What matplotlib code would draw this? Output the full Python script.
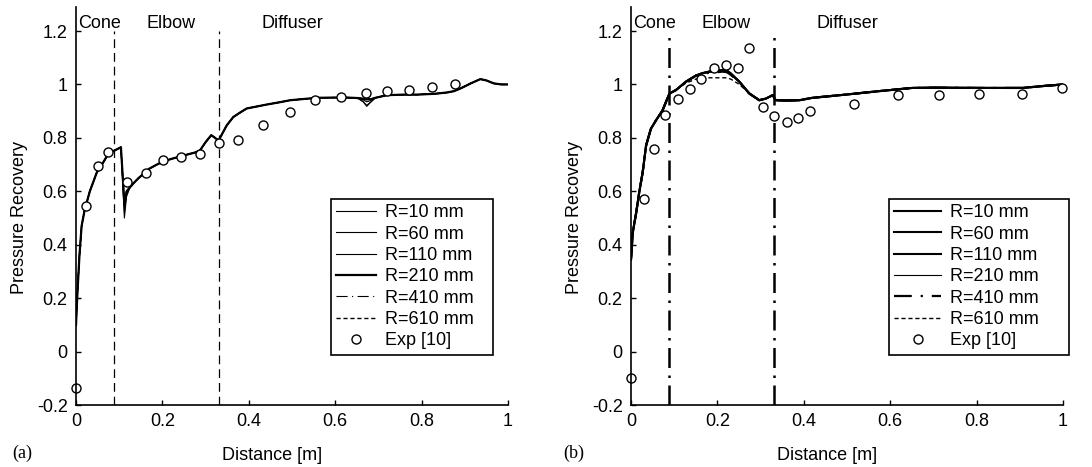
import matplotlib
matplotlib.use("Agg")
import matplotlib.pyplot as plt

plt.rcParams['font.family'] = ['Liberation Sans', 'DejaVu Sans']

# ---------------- Data: panel (a) ----------------
xa = [0, 0.003, 0.008, 0.013, 0.02, 0.032, 0.048, 0.06, 0.071, 0.086,
      0.098, 0.104, 0.108, 0.112, 0.117, 0.125, 0.133, 0.145, 0.156, 0.17,
      0.187, 0.2, 0.218, 0.24, 0.256, 0.275, 0.287, 0.3, 0.313, 0.322,
      0.33, 0.34, 0.349, 0.364, 0.38, 0.395, 0.42, 0.442, 0.47, 0.496,
      0.53, 0.558, 0.6, 0.627, 0.654, 0.665, 0.673, 0.683, 0.693, 0.72,
      0.76, 0.79, 0.83, 0.859, 0.875, 0.89, 0.915, 0.936, 0.95, 0.967,
      0.985, 1.0]
ya_r10 = [0.10, 0.21, 0.36, 0.47, 0.53, 0.60, 0.67, 0.70, 0.73, 0.75,
          0.76, 0.765, 0.64, 0.50, 0.58, 0.615, 0.63, 0.65, 0.665, 0.685,
          0.70, 0.71, 0.72, 0.73, 0.737, 0.745, 0.753, 0.784, 0.81, 0.80,
          0.79, 0.82, 0.847, 0.878, 0.895, 0.91, 0.918, 0.925, 0.933, 0.941,
          0.946, 0.95, 0.951, 0.951, 0.947, 0.935, 0.918, 0.935, 0.95, 0.96,
          0.962, 0.962, 0.965, 0.97, 0.975, 0.985, 1.005, 1.02, 1.015, 1.004,
          1.0, 1.0]
ya_r60 = [0.10, 0.21, 0.36, 0.47, 0.53, 0.60, 0.67, 0.70, 0.73, 0.75,
          0.76, 0.765, 0.64, 0.52, 0.59, 0.615, 0.63, 0.65, 0.665, 0.685,
          0.70, 0.71, 0.72, 0.73, 0.737, 0.745, 0.753, 0.784, 0.81, 0.80,
          0.79, 0.82, 0.847, 0.878, 0.895, 0.91, 0.918, 0.925, 0.933, 0.941,
          0.946, 0.95, 0.951, 0.951, 0.947, 0.935, 0.922, 0.935, 0.95, 0.96,
          0.962, 0.962, 0.965, 0.97, 0.975, 0.985, 1.005, 1.02, 1.015, 1.004,
          1.0, 1.0]
ya_r110 = [0.10, 0.21, 0.36, 0.47, 0.53, 0.60, 0.67, 0.70, 0.73, 0.75,
           0.76, 0.765, 0.65, 0.54, 0.59, 0.615, 0.63, 0.65, 0.665, 0.685,
           0.70, 0.71, 0.72, 0.73, 0.737, 0.745, 0.753, 0.784, 0.81, 0.80,
           0.79, 0.82, 0.847, 0.878, 0.895, 0.91, 0.918, 0.925, 0.933, 0.941,
           0.946, 0.95, 0.951, 0.951, 0.948, 0.942, 0.935, 0.94, 0.95, 0.96,
           0.962, 0.962, 0.965, 0.97, 0.975, 0.985, 1.005, 1.02, 1.015, 1.004,
           1.0, 1.0]
ya_r210 = [0.10, 0.21, 0.36, 0.47, 0.53, 0.60, 0.67, 0.70, 0.73, 0.75,
           0.76, 0.765, 0.66, 0.55, 0.60, 0.615, 0.63, 0.65, 0.665, 0.685,
           0.70, 0.71, 0.72, 0.73, 0.737, 0.745, 0.753, 0.784, 0.81, 0.80,
           0.79, 0.82, 0.847, 0.878, 0.895, 0.91, 0.918, 0.925, 0.933, 0.941,
           0.946, 0.95, 0.951, 0.951, 0.949, 0.946, 0.944, 0.945, 0.95, 0.96,
           0.962, 0.962, 0.965, 0.97, 0.975, 0.985, 1.005, 1.02, 1.015, 1.004,
           1.0, 1.0]
ya_r410 = [0.10, 0.21, 0.36, 0.47, 0.53, 0.60, 0.67, 0.70, 0.73, 0.75,
           0.76, 0.765, 0.66, 0.56, 0.60, 0.615, 0.63, 0.65, 0.665, 0.685,
           0.70, 0.71, 0.72, 0.73, 0.737, 0.745, 0.753, 0.784, 0.81, 0.80,
           0.79, 0.82, 0.847, 0.878, 0.895, 0.91, 0.918, 0.925, 0.933, 0.941,
           0.946, 0.95, 0.951, 0.951, 0.949, 0.947, 0.946, 0.947, 0.95, 0.96,
           0.962, 0.962, 0.965, 0.97, 0.975, 0.985, 1.005, 1.02, 1.015, 1.004,
           1.0, 1.0]
ya_r610 = [0.10, 0.21, 0.36, 0.47, 0.53, 0.60, 0.67, 0.70, 0.73, 0.75,
           0.76, 0.765, 0.66, 0.56, 0.60, 0.615, 0.63, 0.65, 0.665, 0.685,
           0.70, 0.71, 0.72, 0.73, 0.737, 0.745, 0.753, 0.784, 0.81, 0.80,
           0.79, 0.82, 0.847, 0.878, 0.895, 0.91, 0.918, 0.925, 0.933, 0.941,
           0.946, 0.95, 0.951, 0.951, 0.949, 0.947, 0.946, 0.947, 0.95, 0.96,
           0.962, 0.962, 0.965, 0.97, 0.975, 0.985, 1.005, 1.02, 1.015, 1.004,
           1.0, 1.0]
exp_xa = [0.0, 0.023, 0.052, 0.075, 0.117, 0.161, 0.202, 0.243, 0.287, 0.331,
          0.374, 0.434, 0.496, 0.554, 0.613, 0.671, 0.720, 0.770, 0.825, 0.878]
exp_ya = [-0.136, 0.546, 0.694, 0.747, 0.634, 0.669, 0.718, 0.728, 0.740, 0.780,
          0.793, 0.847, 0.897, 0.941, 0.954, 0.969, 0.975, 0.981, 0.989, 1.0]

# ---------------- Data: panel (b) ----------------
xb = [0, 0.004, 0.012, 0.019, 0.027, 0.035, 0.046, 0.058, 0.073, 0.089,
      0.104, 0.127, 0.15, 0.165, 0.181, 0.2, 0.212, 0.222, 0.231, 0.251,
      0.274, 0.297, 0.312, 0.322, 0.328, 0.335, 0.36, 0.39, 0.42, 0.497,
      0.574, 0.651, 0.7, 0.806, 0.906, 0.96, 1.0]
yb_r10 = [0.345, 0.445, 0.52, 0.596, 0.671, 0.772, 0.834, 0.866, 0.903, 0.966,
          0.979, 1.01, 1.033, 1.042, 1.048, 1.052, 1.054, 1.052, 1.041, 1.01,
          0.966, 0.941, 0.947, 0.955, 0.96, 0.941, 0.940, 0.941, 0.95, 0.962,
          0.975, 0.987, 0.988, 0.987, 0.987, 0.995, 1.0]
yb_r60 = [0.345, 0.445, 0.52, 0.596, 0.671, 0.772, 0.834, 0.866, 0.903, 0.966,
          0.979, 1.01, 1.033, 1.042, 1.048, 1.052, 1.054, 1.052, 1.041, 1.01,
          0.966, 0.941, 0.947, 0.955, 0.96, 0.941, 0.940, 0.941, 0.95, 0.962,
          0.975, 0.987, 0.988, 0.987, 0.987, 0.995, 1.0]
yb_r110 = [0.345, 0.445, 0.52, 0.596, 0.671, 0.772, 0.834, 0.866, 0.903, 0.966,
           0.979, 1.01, 1.033, 1.042, 1.048, 1.050, 1.052, 1.050, 1.040, 1.01,
           0.966, 0.941, 0.947, 0.955, 0.96, 0.941, 0.940, 0.941, 0.95, 0.962,
           0.975, 0.987, 0.988, 0.987, 0.987, 0.995, 1.0]
yb_r210 = [0.345, 0.445, 0.52, 0.596, 0.671, 0.772, 0.834, 0.866, 0.903, 0.966,
           0.979, 1.01, 1.033, 1.042, 1.046, 1.048, 1.050, 1.048, 1.038, 1.01,
           0.966, 0.941, 0.947, 0.955, 0.96, 0.941, 0.940, 0.941, 0.95, 0.962,
           0.975, 0.987, 0.988, 0.987, 0.987, 0.995, 1.0]
yb_r410 = [0.345, 0.445, 0.52, 0.596, 0.671, 0.772, 0.834, 0.866, 0.903, 0.966,
           0.979, 1.01, 1.033, 1.040, 1.044, 1.046, 1.048, 1.046, 1.036, 1.008,
           0.966, 0.941, 0.947, 0.955, 0.96, 0.941, 0.940, 0.941, 0.95, 0.962,
           0.975, 0.987, 0.988, 0.987, 0.987, 0.995, 1.0]
yb_r610 = [0.345, 0.445, 0.52, 0.596, 0.671, 0.772, 0.834, 0.866, 0.903, 0.966,
           0.979, 1.005, 1.02, 1.025, 1.025, 1.025, 1.025, 1.025, 1.02, 1.0,
           0.966, 0.941, 0.947, 0.955, 0.96, 0.941, 0.940, 0.941, 0.95, 0.962,
           0.975, 0.987, 0.988, 0.987, 0.987, 0.995, 1.0]
exp_xb = [0.0, 0.029, 0.054, 0.079, 0.109, 0.136, 0.162, 0.193, 0.220, 0.247,
          0.274, 0.305, 0.332, 0.360, 0.387, 0.414, 0.517, 0.618, 0.713, 0.806,
          0.906, 0.998]
exp_yb = [-0.10, 0.573, 0.759, 0.885, 0.947, 0.982, 1.019, 1.06, 1.073, 1.06,
          1.135, 0.916, 0.882, 0.859, 0.875, 0.901, 0.928, 0.960, 0.960, 0.966,
          0.966, 0.985]

labels = ["R=10 mm", "R=60 mm", "R=110 mm", "R=210 mm", "R=410 mm", "R=610 mm"]
sections = ["Cone", "Elbow", "Diffuser"]
section_x = [0.0, 0.22, 0.50]
boundaries = [0.089, 0.33]
xticks = [0, 0.2, 0.4, 0.6, 0.8, 1]
yticks = [-0.2, 0, 0.2, 0.4, 0.6, 0.8, 1, 1.2]
xtick_labels = ["0", "0.2", "0.4", "0.6", "0.8", "1"]
ytick_labels = ["-0.2", "0", "0.2", "0.4", "0.6", "0.8", "1", "1.2"]

FS = 13

fig = plt.figure(figsize=(10.92, 4.67), dpi=100)
axA = fig.add_axes([76/1092, 62/467, 432/1092, 398/467])
axB = fig.add_axes([631/1092, 62/467, 432/1092, 398/467])

styles_a = [dict(lw=0.8, ls='-'), dict(lw=0.8, ls='-'), dict(lw=0.8, ls='-'),
            dict(lw=1.6, ls='-'), dict(lw=0.8, ls=(0, (10, 4, 1, 4))),
            dict(lw=1.0, ls=(0, (3, 2)))]
styles_b = [dict(lw=1.5, ls='-'), dict(lw=1.5, ls='-'), dict(lw=1.5, ls='-'),
            dict(lw=0.8, ls='-'), dict(lw=1.6, ls=(0, (8, 4, 1, 4))),
            dict(lw=1.0, ls=(0, (3, 2)))]

series_a = [ya_r10, ya_r60, ya_r110, ya_r210, ya_r410, ya_r610]
series_b = [yb_r10, yb_r60, yb_r110, yb_r210, yb_r410, yb_r610]


def setup(ax, bstyle):
    ax.set_xlim(0, 1)
    ax.set_ylim(-0.2, 1.29)
    for s in ['top', 'right']:
        ax.spines[s].set_visible(False)
    for s in ['left', 'bottom']:
        ax.spines[s].set_linewidth(1.2)
    ax.set_xticks(xticks)
    ax.set_xticklabels(xtick_labels)
    ax.set_yticks(yticks)
    ax.set_yticklabels(ytick_labels)
    ax.tick_params(direction='in', length=3.5, width=1, labelsize=FS, pad=6)
    ax.set_xlabel("Distance [m]", fontsize=FS)
    ax.set_ylabel("Pressure Recovery", fontsize=FS)
    ax.xaxis.set_label_coords(0.455, -0.105)
    ax.yaxis.set_label_coords(-0.112, 0.47)
    for bx in boundaries:
        ax.plot([bx, bx], [-0.2, 1.2], color='black', **bstyle)
    for name, sx in zip(sections, section_x):
        ha = 'left' if name == "Cone" else 'center'
        ax.text(sx + (0.004 if name == "Cone" else 0), 1.228, name, fontsize=FS,
                ha=ha, va='center')


setup(axA, dict(lw=0.9, ls=(0, (7, 4))))
setup(axB, dict(lw=1.8, ls=(0, (8, 3, 1, 3))))

handles_a = []
for y, lab, st in zip(series_a, labels, styles_a):
    h, = axA.plot(xa, y, color='black', label=lab, **st)
    handles_a.append(h)
ha_exp, = axA.plot(exp_xa, exp_ya, ls='none', marker='o', ms=6.5, mfc='white',
                   mec='black', mew=1.0, label="Exp [10]", clip_on=False)
handles_a.append(ha_exp)

handles_b = []
for y, lab, st in zip(series_b, labels, styles_b):
    h, = axB.plot(xb, y, color='black', label=lab, **st)
    handles_b.append(h)
hb_exp, = axB.plot(exp_xb, exp_yb, ls='none', marker='o', ms=6.5, mfc='white',
                   mec='black', mew=1.0, label="Exp [10]", clip_on=False)
handles_b.append(hb_exp)

for ax, hs, anchor, hl in [(axA, handles_a, (0.59, 0.131, 0.375, 0.387), 2.2),
                           (axB, handles_b, (0.597, 0.131, 0.418, 0.387), 2.6)]:
    leg = ax.legend(handles=hs, loc='upper left', bbox_to_anchor=anchor,
                    mode='expand', fontsize=FS, frameon=True, fancybox=False,
                    edgecolor='black', framealpha=1, handlelength=hl,
                    labelspacing=0.24, borderpad=0.3, handletextpad=0.5,
                    borderaxespad=0)
    leg.get_frame().set_linewidth(1.2)

fig.text(12/1092, 1 - 453/467, "(a)", fontsize=FS, family='Liberation Serif',
         va='center', ha='left')
fig.text(563/1092, 1 - 453/467, "(b)", fontsize=FS, family='Liberation Serif',
         va='center', ha='left')

fig.savefig("out.png", dpi=100)
